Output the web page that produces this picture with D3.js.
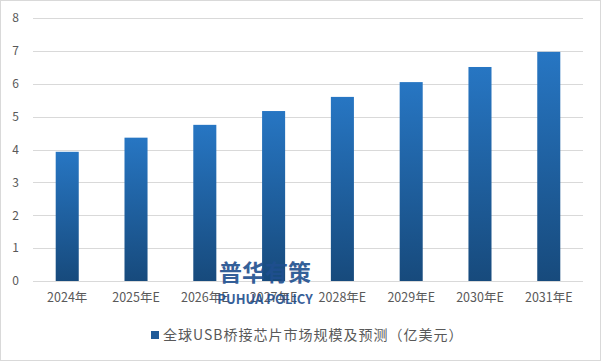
<!DOCTYPE html>
<html><head><meta charset="utf-8">
<script src="https://cdn.jsdelivr.net/npm/d3@7"></script>
<style>body{margin:0;background:#fff}svg{display:block}</style>
</head><body>
<svg id="c" width="601" height="361"></svg>
<script>
const categories = ["2024年","2025年E","2026年E","2027年E","2028年E","2029年E","2030年E","2031年E"];
const values = [3.93, 4.36, 4.75, 5.17, 5.6, 6.05, 6.51, 6.97];
const yTicks = [0,1,2,3,4,5,6,7,8];
const seriesName = "全球USB桥接芯片市场规模及预测（亿美元）";

const svg = d3.select("#c");
const font = "'Microsoft YaHei','Noto Sans CJK SC',sans-serif";
svg.append("rect").attr("x",0.5).attr("y",0.5).attr("width",600).attr("height",360)
  .attr("fill","#fff").attr("stroke","#d9d9d9");

const defs = svg.append("defs");
const g = defs.append("linearGradient").attr("id","bg").attr("x1",0).attr("y1",0).attr("x2",0).attr("y2",1);
g.append("stop").attr("offset","0%").attr("stop-color","#2776c3");
g.append("stop").attr("offset","100%").attr("stop-color","#174a7c");

const x = d3.scaleBand().domain(categories).range([33,583]).paddingInner(0.665).paddingOuter(0.33);
const y = d3.scaleLinear().domain([0,8]).range([281,18]);

const grid = svg.append("g");
grid.selectAll("line").data(yTicks).join("line")
  .attr("x1",33).attr("x2",583).attr("y1",d=>Math.round(y(d))+0.5).attr("y2",d=>Math.round(y(d))+0.5)
  .attr("stroke","#d9d9d9").attr("stroke-width",1);

const yAxis = d3.axisLeft(y).tickValues(yTicks).tickSize(0).tickPadding(0).tickFormat(d3.format("d"));
svg.append("g").attr("transform","translate(19,0)").call(yAxis)
  .call(s=>s.select(".domain").remove())
  .selectAll("text").attr("fill","#595959").attr("font-size",12).attr("font-family",font);

svg.append("g").selectAll("rect").data(values).join("rect")
  .attr("x",(d,i)=>x(categories[i])).attr("width",x.bandwidth())
  .attr("y",d=>y(d)).attr("height",d=>y(0)-y(d)).attr("fill","url(#bg)");

const xAxis = d3.axisBottom(x).tickSize(0).tickPadding(12);
svg.append("g").attr("transform","translate(0,281)").call(xAxis)
  .call(s=>s.select(".domain").remove())
  .selectAll("text").attr("fill","#595959").attr("font-size",12.5).attr("font-family",font);

// watermark
svg.append("text").attr("x",265).attr("y",281).attr("text-anchor","middle")
  .attr("font-size",23).attr("font-weight","bold").attr("font-family",font)
  .attr("fill","#1f4f8f").attr("opacity",0.9).text("普华有策");
svg.append("text").attr("x",265).attr("y",304).attr("text-anchor","middle")
  .attr("font-size",13).attr("font-weight","bold").attr("font-family",font)
  .attr("fill","#1f4f8f").attr("opacity",0.9).text("PUHUA POLICY");

// legend
const lg = svg.append("g");
lg.append("rect").attr("x",151).attr("y",331).attr("width",8).attr("height",8).attr("fill","#1f5a98");
lg.append("text").attr("x",163).attr("y",340).attr("font-size",14).attr("letter-spacing",1).attr("font-family",font)
  .attr("fill","#595959").text(seriesName);
</script>
</body></html>
